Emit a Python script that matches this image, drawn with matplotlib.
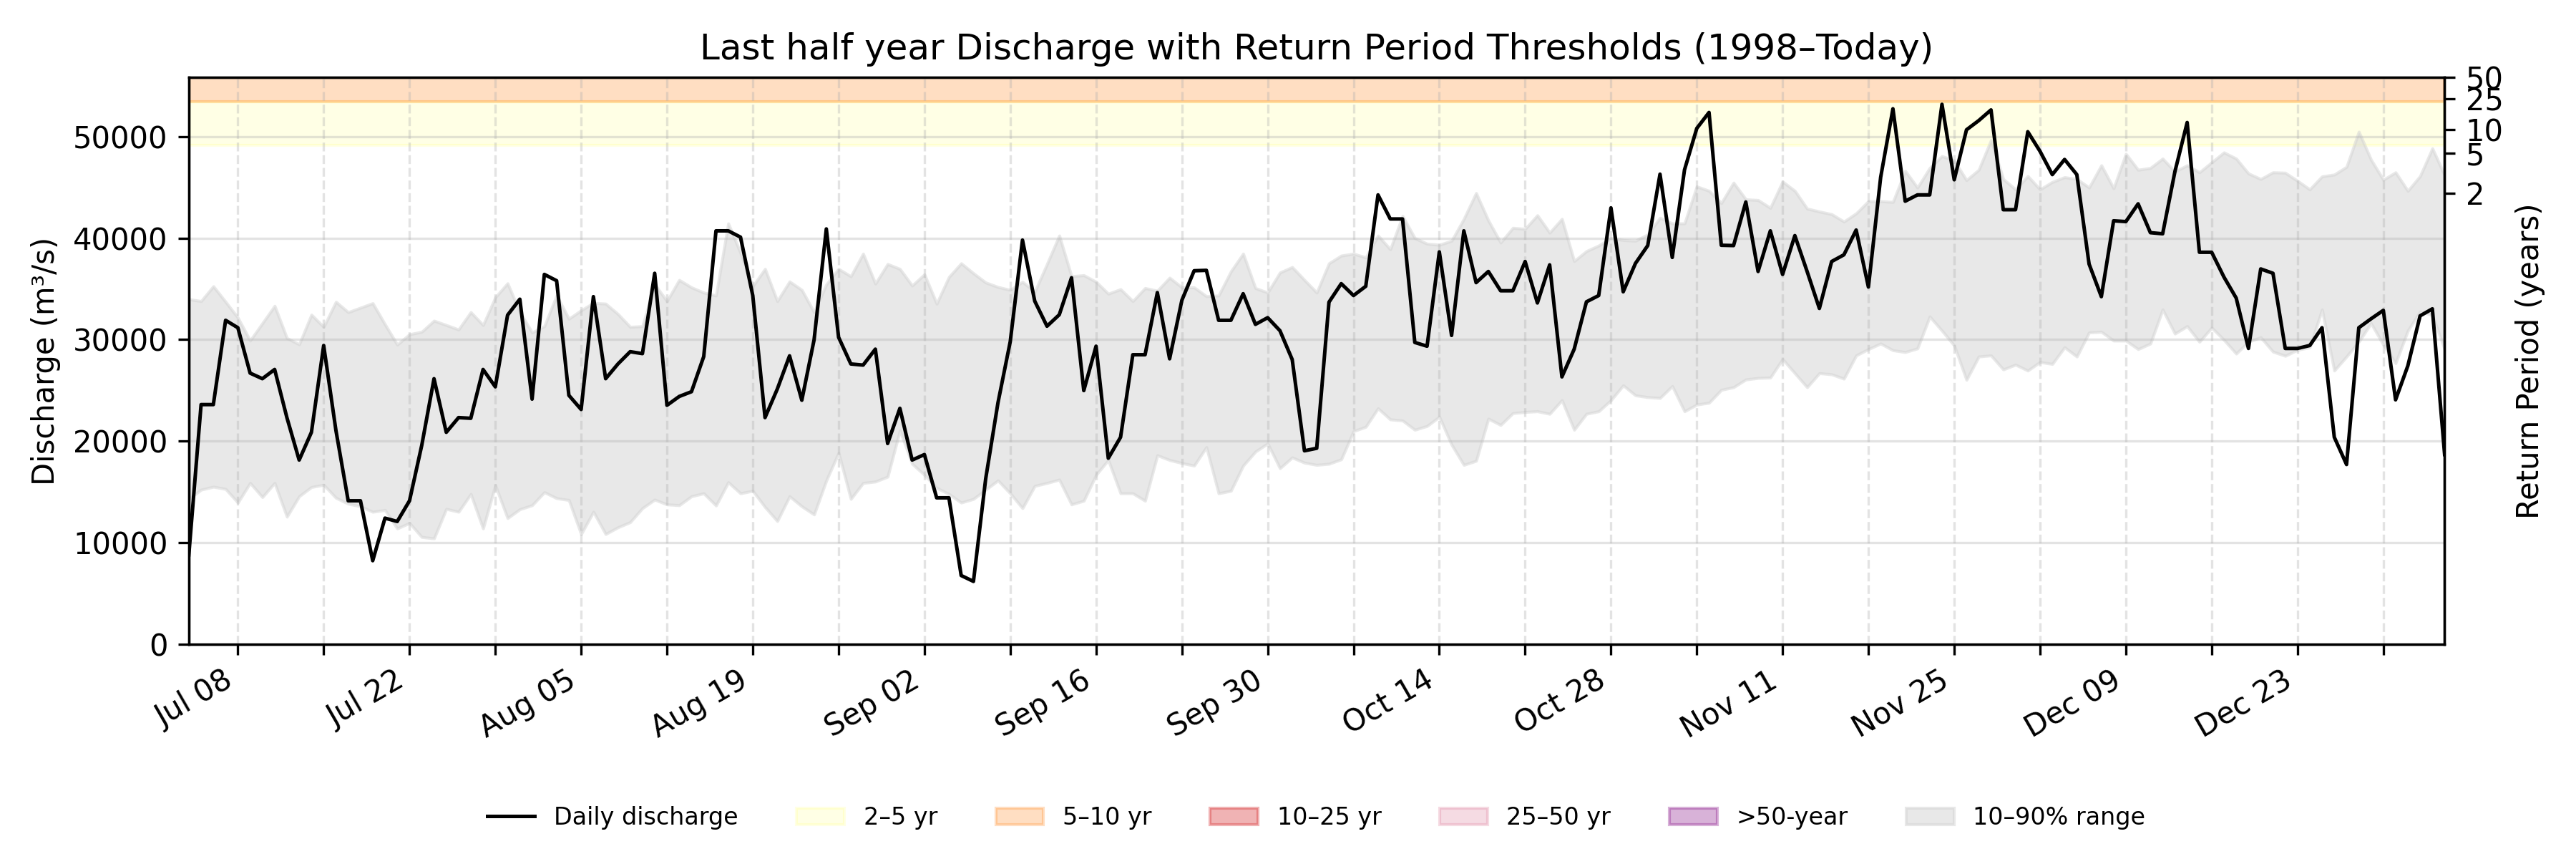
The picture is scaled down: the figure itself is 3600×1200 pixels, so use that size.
import matplotlib
matplotlib.use("Agg")
import matplotlib.pyplot as plt
import numpy as np
import pandas as pd

# daily discharge for the last half year (m3/s)
dates = pd.date_range("2024-07-04", "2025-01-04", freq="D")

discharge = [
    8800, 23600, 23600, 31900, 31170, 26700, 26150, 27060, 22320, 18140,
    20870, 29420, 21050, 14130, 14130, 8230, 12420, 12090, 14130, 19590,
    26150, 20870, 22320, 22250, 27060, 25350, 32410, 33980, 24140, 36420,
    35800, 24510, 23120, 34230, 26150, 27600, 28810, 28620, 36530, 23530,
    24400, 24870, 28330, 40710, 40710, 40090, 34340, 22320, 25130, 28400,
    24030, 29970, 40900, 30230, 27600, 27490, 29060, 19770, 23230, 18140,
    18680, 14420, 14420, 6770, 6190, 16310, 23780, 29790, 39800, 33790,
    31320, 32450, 36090, 24980, 29350, 18320, 20390, 28510, 28510, 34630,
    28110, 33870, 36780, 36820, 31900, 31900, 34520, 31500, 32160, 30880,
    28040, 19050, 19300, 33690, 35510, 34340, 35250, 44250, 41880, 41880,
    29720, 29350, 38640, 30410, 40710, 35610, 36710, 34810, 34810, 37690,
    33610, 37360, 26330, 29060, 33720, 34340, 42970, 34710, 37510, 39260,
    46290, 38090, 46720, 50800, 52370, 39290, 39260, 43550, 36710, 40710,
    36420, 40240, 36710, 33070, 37690, 38350, 40790, 35180, 45990, 52730,
    43630, 44250, 44250, 53170, 45740, 50660, 51570, 52620, 42790, 42790,
    50470, 48540, 46250, 47740, 46250, 37440, 34230, 41700, 41620, 43370,
    40530, 40420, 46540, 51380, 38600, 38600, 36160, 34090, 29130, 36960,
    36530, 29130, 29130, 29420, 31170, 20390, 17700, 31170, 32050, 32880,
    24070, 27420, 32340, 33030, 18680,
]

# 10th and 90th percentile of the same calendar day, 1998-today
q10 = [
    14300, 15220, 15510, 15290, 13950, 15880, 14490, 15880, 12560, 14570,
    15480, 15700, 14420, 13840, 13580, 13040, 13220, 11400, 11940, 10560,
    10420, 13330, 13040, 14790, 11400, 15660, 12420, 13290, 13690, 14970,
    14380, 14200, 10850, 13040, 10850, 11510, 12020, 13400, 14240, 13770,
    13690, 14570, 14860, 13660, 15950, 14860, 15110, 13510, 12130, 14570,
    13580, 12780, 16130, 18860, 14310, 15880, 16020, 16500, 21050, 17770,
    16680, 15400, 14790, 13950, 14310, 15220, 16130, 14860, 13400, 15590,
    15880, 16210, 13770, 14130, 16680, 18140, 14860, 14860, 14130, 18610,
    18140, 17840, 17590, 19410, 14860, 15110, 17590, 18970, 19770, 17330,
    18390, 17880, 17660, 17770, 18210, 20980, 21410, 23230, 22140, 22030,
    21120, 21490, 22400, 19660, 17660, 18060, 22210, 21590, 22760, 22870,
    22940, 22690, 24030, 21120, 22690, 22940, 24030, 25490, 24510, 24330,
    24250, 25420, 22940, 23600, 23780, 25050, 25310, 26070, 26220, 26260,
    28080, 26690, 25310, 26690, 26580, 26150, 28440, 29060, 29610, 28950,
    28770, 29130, 32270, 30880, 29420, 26040, 28330, 28440, 27060, 27530,
    26950, 27790, 27600, 29240, 28330, 30700, 30770, 29900, 29900, 29060,
    29610, 32960, 30590, 31320, 29790, 31170, 29970, 28620, 29790, 30230,
    28810, 28400, 28990, 29240, 32960, 26950, 28330, 29790, 31610, 29500,
    27680, 30880, 32770, 32410, 29060,
]
q90 = [
    33980, 33790, 35250, 33720, 32160, 29900, 31610, 33320, 30150, 29530,
    32450, 31250, 33720, 32700, 33140, 33580, 31500, 29500, 30520, 30770,
    31860, 31430, 30990, 32700, 31430, 34160, 35540, 32700, 30700, 31320,
    34340, 32050, 32880, 33610, 33540, 32520, 31250, 31320, 35430, 33790,
    35870, 35140, 34630, 34340, 41440, 38530, 35250, 36960, 33790, 35720,
    34890, 32700, 35430, 36960, 36230, 38460, 35510, 37440, 36960, 35320,
    36420, 33540, 36160, 37510, 36530, 35620, 35180, 34890, 35690, 34700,
    37440, 40240, 36230, 36340, 35690, 34520, 34960, 33790, 35070, 34810,
    36090, 35140, 35140, 34270, 34340, 36710, 38460, 35070, 34630, 36600,
    37140, 35870, 34630, 37510, 38270, 38460, 38090, 40240, 38890, 42170,
    39990, 39440, 39330, 39730, 41880, 44430, 41730, 39550, 41000, 40900,
    42240, 40530, 41880, 37730, 38710, 39260, 39990, 39800, 39730, 40350,
    41990, 41440, 41440, 45080, 44650, 43440, 45450, 43810, 43740, 42970,
    45560, 44650, 42900, 42610, 42350, 41620, 42430, 43630, 43630, 43550,
    46610, 44970, 46900, 48070, 47630, 45700, 46720, 49640, 45810, 44790,
    46100, 44790, 45520, 45990, 45810, 44970, 47160, 44900, 48290, 46720,
    46900, 47820, 46540, 47160, 46470, 47450, 48430, 47820, 46360, 45810,
    46470, 46430, 45630, 44790, 46070, 46250, 47010, 50470, 47710, 45740,
    46470, 44650, 46100, 48830, 46180,
]

# return period thresholds (m3/s)
rp_years = [2, 5, 10, 25, 50]
rp_values = [49160, 53460, 56030, 59420, 61760]

fig, ax = plt.subplots(figsize=(12, 4), dpi=300)
fig.subplots_adjust(left=0.0733, right=0.949, top=0.91, bottom=0.25)

# return period bands
band_colors = ["yellow", "tab:orange", "tab:red", "palevioletred", "purple"]
band_alpha = [0.1, 0.25, 0.35, 0.25, 0.3]
band_labels = ["2–5 yr", "5–10 yr", "10–25 yr", "25–50 yr", ">50-year"]
band_handles = []
for i in range(5):
    lo = rp_values[i]
    hi = rp_values[i + 1] if i < 4 else rp_values[i] * 1.5
    h = ax.axhspan(lo, hi, color=band_colors[i], alpha=band_alpha[i], label=band_labels[i], zorder=0)
    band_handles.append(h)

rng = ax.fill_between(dates, q10, q90, color="lightgray", alpha=0.5, label="10–90% range", zorder=1)
line, = ax.plot(dates, discharge, color="black", lw=1.2, label="Daily discharge", zorder=3)

ax.set_xlim(dates[0], dates[-1])
ax.set_ylim(0, max(discharge) * 1.05)
ax.set_ylabel("Discharge (m³/s)")
ax.set_title("Last half year Discharge with Return Period Thresholds (1998–Today)", fontsize=12)

# weekly ticks, label every other one
week_ticks = pd.date_range("2024-07-08", dates[-1], freq="7D")
ax.set_xticks(week_ticks)
ax.set_xticklabels([d.strftime("%b %d") if i % 2 == 0 else "" for i, d in enumerate(week_ticks)],
                   rotation=30, ha="right")
ax.grid(axis="x", linestyle="--", color="#b0b0b0", alpha=0.35, lw=0.8)
ax.grid(axis="y", linestyle="-", color="#b0b0b0", alpha=0.35, lw=0.8)

# secondary axis with return periods
ax2 = ax.twinx()
ax2.set_ylim(0, rp_values[-1])
ax2.set_yticks(rp_values)
ax2.set_yticklabels([str(y) for y in rp_years])
ax2.set_ylabel("Return Period (years)")

handles = [line] + band_handles + [rng]
fig.legend(handles=handles, loc="center", bbox_to_anchor=(0.511, 0.048), ncol=7,
           frameon=False, fontsize=8, columnspacing=2.45)

fig.savefig("out.png", dpi=300)
